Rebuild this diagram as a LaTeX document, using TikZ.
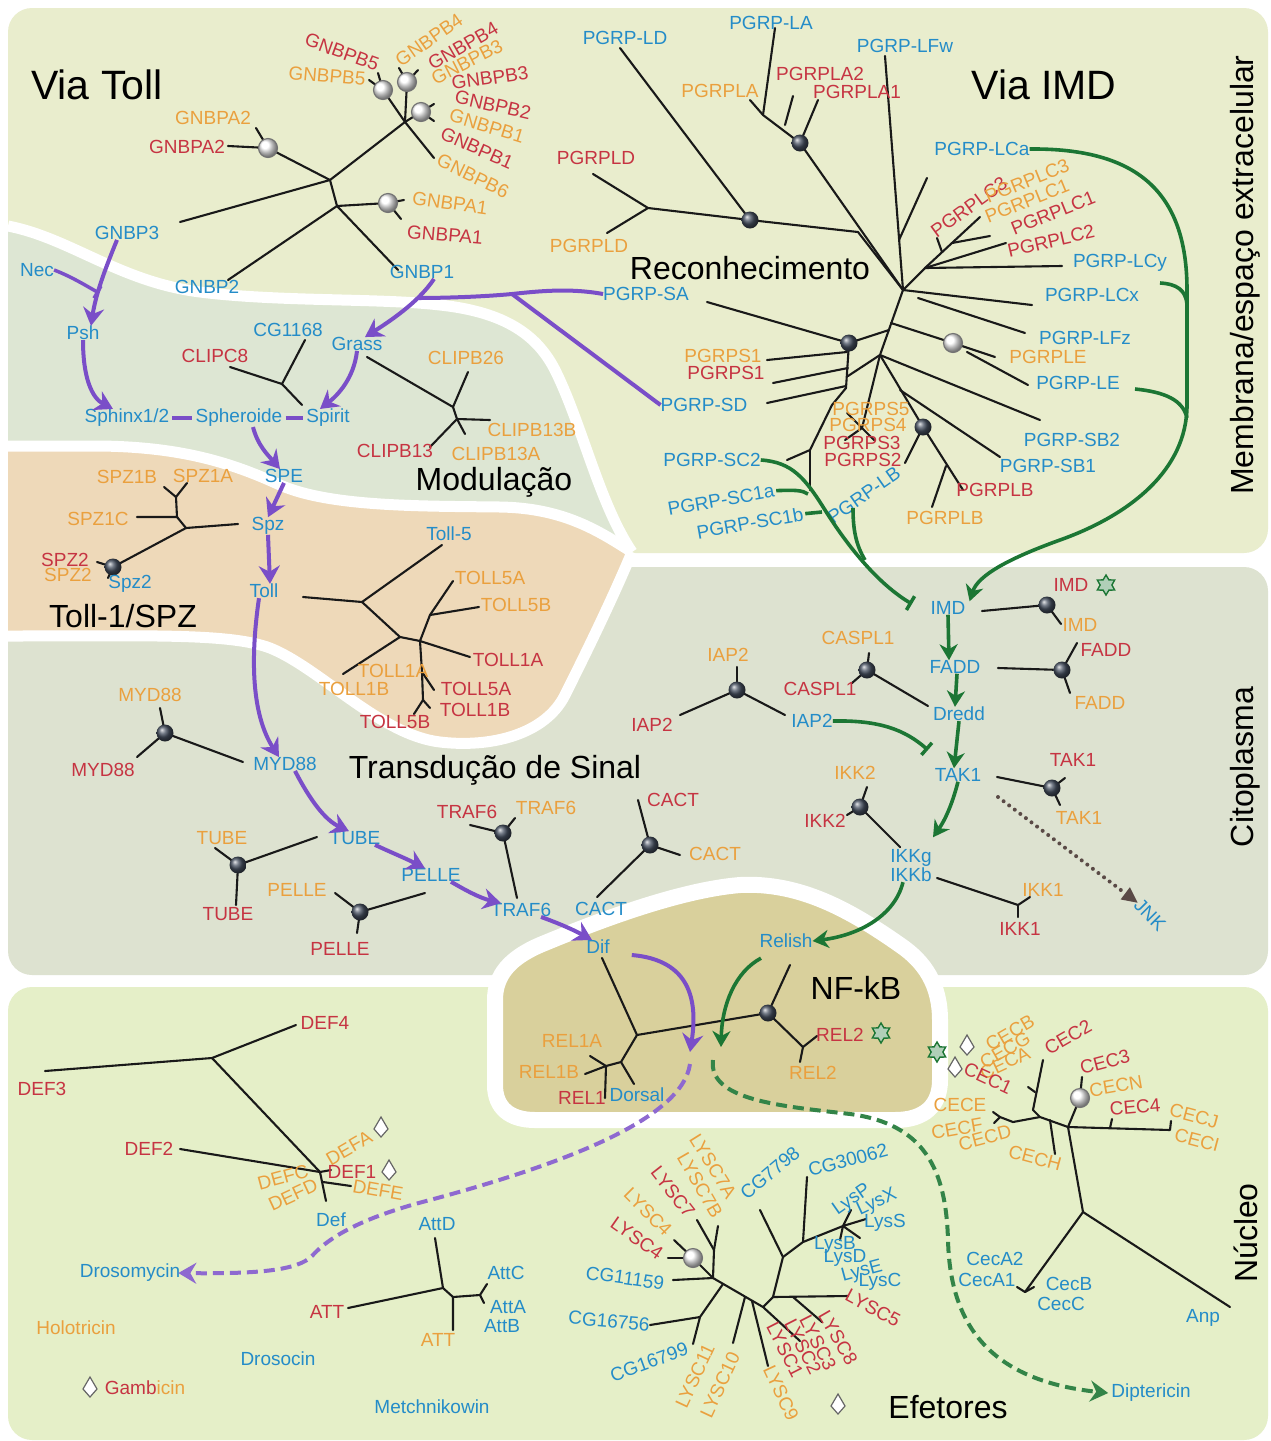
\documentclass[tikz,border=0pt]{standalone}
\usepackage{fontspec}
\setmainfont{Liberation Sans}
\usetikzlibrary{arrows.meta,shapes.geometric}
\definecolor{cB}{RGB}{36,140,200}
\definecolor{cR}{RGB}{198,52,66}
\definecolor{cO}{RGB}{234,160,62}
\definecolor{cP}{RGB}{122,78,200}
\definecolor{cG}{RGB}{28,118,52}
\definecolor{cT}{RGB}{233,237,205}
\definecolor{cM}{RGB}{221,230,211}
\definecolor{cTan}{RGB}{238,217,185}
\definecolor{cC}{RGB}{221,226,208}
\definecolor{cK}{RGB}{217,208,156}
\definecolor{cN}{RGB}{229,239,200}
\definecolor{sphc}{RGB}{70,80,96}
\definecolor{cJ}{RGB}{90,74,70}
\newcommand{\lblfont}{\fontsize{19}{19}\selectfont}
\newcommand{\ttlfont}{\fontsize{32}{32}\selectfont}
\newcommand{\bigfont}{\fontsize{41}{41}\selectfont}
\newcommand{\ball}[1]{\shade[ball color=sphc] (#1) circle (8.5pt);}
\newcommand{\wcirc}[1]{\shade[ball color=white] (#1) circle (9.5pt);\draw[black!55,line width=1.1pt] (#1) circle (9.5pt);}
\newcommand{\dmd}[1]{\draw[black!60,fill=white,line width=1.2pt] (#1) ++(0,-11) -- ++(7,12) -- ++(-7,8) -- ++(-7,-8) -- cycle;}
\newcommand{\gstar}[2]{\node[star,star points=6,star point ratio=1.7,draw=cG,fill=cG!35,line width=1.4pt,minimum size=20pt,inner sep=0pt] (#1) at (#2) {};}
\tikzset{
 labB/.style={text=cB,font=\lblfont,inner sep=0pt},
 labR/.style={text=cR,font=\lblfont,inner sep=0pt},
 labO/.style={text=cO,font=\lblfont,inner sep=0pt},
 ttlS/.style={font=\ttlfont,inner sep=0pt},
 ttlL/.style={font=\bigfont,inner sep=0pt},
 brn/.style={draw=black!90,line width=2.1pt,line cap=round,line join=round},
 parr/.style={draw=cP,line width=4pt,-{Stealth[length=18pt,width=21pt,inset=6pt]}},
 pline/.style={draw=cP,line width=4pt},
 pinh/.style={draw=cP,line width=3.5pt,-{Bar[width=14pt,line width=3.5pt]}},
 pdash/.style={draw=cP!85,line width=4pt,dash pattern=on 11pt off 6pt,-{Stealth[length=18pt,width=21pt,inset=6pt]}},
 garr/.style={draw=cG,line width=3.6pt,-{Stealth[length=16pt,width=18pt,inset=5pt]}},
 gline/.style={draw=cG,line width=3.6pt},
 ginh/.style={draw=cG,line width=3.6pt,-{Bar[width=16pt,line width=3.5pt]}},
 gdash/.style={draw=cG!90,line width=4pt,dash pattern=on 11pt off 6pt,-{Stealth[length=18pt,width=21pt,inset=6pt]}},
 jdot/.style={draw=cJ,line width=4pt,line cap=round,dash pattern=on 0pt off 7pt,-{Triangle[length=16pt,width=14pt]}},
 whitesep/.style={draw=white,line width=11pt}
}
\begin{document}
\begin{tikzpicture}[x=1pt,y=-1pt]
\useasboundingbox (0,0) rectangle (1270,1441);
\fill[white] (0,0) rectangle (1270,1441);
% ---------------- regions
\fill[cT, rounded corners=24pt] (8,8) rectangle (1268,553);
\fill[cC, rounded corners=24pt] (8,567) rectangle (1268,975);
\fill[cN, rounded corners=24pt] (8,987) rectangle (1268,1440);
\fill[cM] (8,226) .. controls (70,238) and (120,282) .. (200,292) .. controls (280,302) and (380,298) .. (440,305) .. controls (505,312) and (538,335) .. (556,372) .. controls (582,425) and (600,505) .. (632,552) .. controls (600,532) and (565,508) .. (500,507) .. controls (420,506) and (330,507) .. (280,485) .. controls (230,462) and (180,447) .. (100,446) -- (8,446) -- cycle;
\fill[cTan] (8,446) -- (100,446) .. controls (180,447) and (230,462) .. (280,485) .. controls (330,507) and (420,506) .. (500,507) .. controls (565,508) and (600,532) .. (632,552) .. controls (612,600) and (585,655) .. (565,695) .. controls (545,735) and (490,748) .. (440,742) .. controls (380,735) and (320,668) .. (270,648) .. controls (230,633) and (150,636) .. (8,636) -- cycle;
\draw[whitesep] (8,226) .. controls (70,238) and (120,282) .. (200,292) .. controls (280,302) and (380,298) .. (440,305) .. controls (505,312) and (538,335) .. (556,372) .. controls (582,425) and (600,505) .. (632,552);
\draw[whitesep] (8,446) -- (100,446) .. controls (180,447) and (230,462) .. (280,485) .. controls (330,507) and (420,506) .. (500,507) .. controls (565,508) and (600,532) .. (632,552);
\draw[whitesep] (632,552) .. controls (612,600) and (585,655) .. (565,695) .. controls (545,735) and (490,748) .. (440,742) .. controls (380,735) and (320,668) .. (270,648) .. controls (230,633) and (150,636) .. (8,636);
\filldraw[fill=cK, draw=white, line width=16pt] (495,1000) .. controls (495,975) and (510,958) .. (540,945) .. controls (600,920) and (680,890) .. (740,885) .. controls (800,882) and (850,910) .. (900,945) .. controls (925,962) and (940,985) .. (940,1020) -- (940,1080) .. controls (940,1105) and (925,1120) .. (895,1120) -- (535,1120) .. controls (510,1120) and (495,1108) .. (495,1085) -- cycle;

% ---------------- titles
\node[ttlL] (tVT) at (97,85) {Via Toll};
\node[ttlL] (tVI) at (1044,85) {Via IMD};
\node[ttlS] (tRec) at (750,268) {Reconhecimento};
\node[ttlS] (tMod) at (494,482) {Modulação};
\node[ttlS] (tTS) at (123,616) {Toll-1/SPZ};
\node[ttlS] (tTr) at (495,770) {Transdução de Sinal};
\node[ttlS] (tNF) at (856,988) {NF-kB};
\node[ttlS] (tEf) at (948,1407) {Efetores};
\node[ttlS,rotate=90] (tMem) at (1245,275) {Membrana/espaço extracelular};
\node[ttlS,rotate=90] (tCit) at (1245,767) {Citoplasma};
\node[ttlS,rotate=90] (tNuc) at (1246,1233) {Núcleo};

% ---------------- GNBP tree
\coordinate (gJ1) at (330,180); \coordinate (gJ2) at (337,206); \coordinate (gK) at (405,122);
\coordinate (gA2) at (268,148); \coordinate (gA1) at (388,203);
\coordinate (gC1) at (383,90); \coordinate (gC2) at (407,82); \coordinate (gC3) at (421,112);
\draw[brn] (180,222)--(gJ1)--(gK);
\draw[brn] (gA2)--(gJ1)--(gJ2);
\draw[brn] (gJ2)--(gA1); \draw[brn] (gJ2)--(228,280); \draw[brn] (gJ2)--(398,270);
\draw[brn] (gA2)--(228,146); \draw[brn] (gA2)--(256,128);
\draw[brn] (gA1)--(404,200); \draw[brn] (gA1)--(401,219);
\draw[brn] (gK)--(gC1); \draw[brn] (gK)--(gC2); \draw[brn] (gK)--(gC3); \draw[brn] (gK)--(434,158);
\draw[brn] (gC1)--(369,80); \draw[brn] (gC1)--(378,73);
\draw[brn] (gC2)--(399,68); \draw[brn] (gC2)--(418,70);
\draw[brn] (gC3)--(434,104); \draw[brn] (gC3)--(434,121);
\wcirc{gA2} \wcirc{gA1} \wcirc{gC1} \wcirc{gC2} \wcirc{gC3}

% ---------------- PGRP tree
\coordinate (pS1) at (750,220); \coordinate (pS2) at (800,143); \coordinate (pS3) at (849,343);
\coordinate (pS4) at (923,427); \coordinate (pW) at (953,343); \coordinate (pH) at (903,290);
\coordinate (pH2) at (925,268); \coordinate (pH4) at (880,355); \coordinate (pL) at (899,240);
\coordinate (pD) at (648,208); \coordinate (pA) at (763,115); \coordinate (pSp) at (846,388);
\coordinate (pSC) at (810,450); \coordinate (pP) at (862,428);
\draw[brn] (620,48)--(pS1);
\draw[brn] (593,174)--(pD)--(607,233); \draw[brn] (pD)--(pS1)--(858,232)--(pH);
\draw[brn] (775,28)--(pA)--(pS2); \draw[brn] (750,100)--(pA); \draw[brn] (793,96)--(785,125); \draw[brn] (818,100)--(pS2);
\draw[brn] (pS2)--(pH);
\draw[brn] (885,56)--(pH); \draw[brn] (927,178)--(pL);
\draw[brn] (pH)--(pH2)--(980,217); \draw[brn] (952,243)--(990,236); \draw[brn] (pH2)--(1006,243); \draw[brn] (pH2)--(1062,266); \draw[brn] (942,252)--(937,238);
\draw[brn] (pH)--(1032,305); \draw[brn] (918,298)--(1025,333);
\draw[brn] (pH)--(pH4);
\draw[brn] (707,302)--(pS3)--(889,330);
\draw[brn] (891,323)--(pW)--(995,357); \draw[brn] (967,352)--(1028,385);
\draw[brn] (pH4)--(1040,420); \draw[brn] (pH4)--(pS4); \draw[brn] (900,390)--(1000,457);
\draw[brn] (pS4)--(905,463); \draw[brn] (pS4)--(963,490); \draw[brn] (946,466)--(932,507);
\draw[brn] (pS3)--(pSp); \draw[brn] (pH4)--(848,376);
\draw[brn] (767,360)--(847,352); \draw[brn] (773,383)--(848,368); \draw[brn] (767,403)--(846,386);
\draw[brn] (pH4)--(pP); \draw[brn] (pP)--(847,413); \draw[brn] (pP)--(845,440); \draw[brn] (pP)--(874,440);
\draw[brn] (pSp)--(832,405)--(pSC); \draw[brn] (pSC)--(787,460); \draw[brn] (pSC)--(810,490);
\ball{pS1} \ball{pS2} \ball{pS3} \ball{pS4} \wcirc{pW}

% ---------------- CLIP trees
\draw[brn] (305,340)--(282,384)--(230,367); \draw[brn] (282,384)--(302,405);
\draw[brn] (367,357)--(453,407)--(468,372); \draw[brn] (453,407)--(457,419)--(490,420); \draw[brn] (457,419)--(465,434); \draw[brn] (457,419)--(430,447);

% ---------------- SPZ / Toll trees
\coordinate (sA) at (177,517); \coordinate (sB) at (186,528); \coordinate (sS) at (113,567); \coordinate (sY) at (176,497);
\draw[brn] (137,517)--(sA)--(sY)--(164,487); \draw[brn] (sY)--(187,483);
\draw[brn] (sA)--(sB)--(238,524); \draw[brn] (sB)--(sS)--(97,562); \draw[brn] (sS)--(108,578);
\ball{sS}
\coordinate (tT1) at (362,602); \coordinate (tT2) at (400,637); \coordinate (tT3) at (420,641);
\coordinate (tT4) at (430,615); \coordinate (tT5) at (422,672); \coordinate (tT6) at (423,700);
\draw[brn] (303,597)--(tT1)--(442,545);
\draw[brn] (tT1)--(tT2)--(343,674);
\draw[brn] (tT2)--(tT3)--(tT4)--(453,581); \draw[brn] (tT4)--(479,607);
\draw[brn] (tT3)--(470,657);
\draw[brn] (tT3)--(tT5)--(434,690); \draw[brn] (tT5)--(tT6)--(430,708); \draw[brn] (tT6)--(414,714);

% ---------------- cytoplasm trees
\coordinate (cS1) at (165,733); \coordinate (cS2) at (238,865); \coordinate (cS3) at (360,912);
\coordinate (cS4) at (503,833); \coordinate (cS5) at (650,845); \coordinate (cS6) at (1047,605);
\coordinate (cS7) at (1062,670); \coordinate (cS8) at (867,670); \coordinate (cS9) at (737,690);
\coordinate (cS10) at (1052,788); \coordinate (cS11) at (860,807); \coordinate (cN1) at (1018,905);
\draw[brn] (cS1)--(160,708); \draw[brn] (cS1)--(137,757); \draw[brn] (cS1)--(243,762);
\draw[brn] (cS2)--(215,848); \draw[brn] (cS2)--(236,905); \draw[brn] (cS2)--(317,837);
\draw[brn] (cS3)--(335,893); \draw[brn] (cS3)--(357,933); \draw[brn] (cS3)--(425,893);
\draw[brn] (cS4)--(470,825); \draw[brn] (cS4)--(515,818); \draw[brn] (cS4)--(517,898);
\draw[brn] (cS5)--(638,800); \draw[brn] (cS5)--(680,855); \draw[brn] (cS5)--(597,897);
\draw[brn] (cS6)--(982,611); \draw[brn] (cS6)--(1061,624);
\draw[brn] (cS7)--(998,668); \draw[brn] (cS7)--(1077,643); \draw[brn] (cS7)--(1070,693);
\draw[brn] (cS8)--(869,653); \draw[brn] (cS8)--(852,683); \draw[brn] (cS8)--(928,706);
\draw[brn] (cS9)--(737,667); \draw[brn] (cS9)--(680,715); \draw[brn] (cS9)--(785,715);
\draw[brn] (cS10)--(997,777); \draw[brn] (cS10)--(1065,778); \draw[brn] (cS10)--(1060,805);
\draw[brn] (cS11)--(867,787); \draw[brn] (cS11)--(847,815); \draw[brn] (cS11)--(900,847);
\draw[brn] (937,878)--(cN1)--(1030,897); \draw[brn] (cN1)--(1018,917);
\ball{cS1} \ball{cS2} \ball{cS3} \ball{cS4} \ball{cS5} \ball{cS6} \ball{cS7} \ball{cS8} \ball{cS9} \ball{cS10} \ball{cS11}

% ---------------- NF-kB tree
\coordinate (nN) at (637,1035); \coordinate (nS) at (768,1013); \coordinate (nR) at (803,1047);
\coordinate (nA) at (621,1062); \coordinate (nB) at (606,1066);
\draw[brn] (602,958)--(nN)--(nS)--(790,965);
\draw[brn] (nS)--(nR)--(817,1036); \draw[brn] (nR)--(800,1062);
\draw[brn] (nN)--(nA)--(634,1084); \draw[brn] (nA)--(nB)--(590,1056); \draw[brn] (nB)--(585,1074); \draw[brn] (nB)--(605,1098);
\ball{nS}

% ---------------- DEF / ATT trees
\coordinate (dD1) at (212,1058); \coordinate (dD2) at (320,1172);
\draw[brn] (45,1071)--(dD1)--(296,1025); \draw[brn] (dD1)--(dD2); \draw[brn] (180,1149)--(dD2);
\draw[brn] (dD2)--(326,1201); \draw[brn] (323,1182)--(351,1186); \draw[brn] (dD2)--(331,1170);
\coordinate (aN1) at (443,1288); \coordinate (aN2) at (453,1297); \coordinate (aN3) at (480,1295);
\draw[brn] (348,1308)--(aN1)--(435,1238); \draw[brn] (aN1)--(aN2)--(453,1330); \draw[brn] (aN2)--(aN3)--(487,1284); \draw[brn] (aN3)--(484,1303);

% ---------------- lysozyme tree
\coordinate (yA) at (713,1278); \coordinate (yB) at (714,1250); \coordinate (yW) at (693,1258);
\coordinate (yC) at (723,1284); \coordinate (yC2) at (700,1317); \coordinate (yD) at (745,1297);
\coordinate (yE) at (763,1307); \coordinate (yF) at (773,1297); \coordinate (yG) at (783,1257);
\coordinate (yH) at (803,1242); \coordinate (yL) at (843,1226);
\draw[brn] (673,1280)--(yA)--(yB)--(718,1226); \draw[brn] (yB)--(697,1220);
\draw[brn] (yA)--(yW); \draw[brn] (yW)--(674,1240); \draw[brn] (yW)--(668,1258);
\draw[brn] (yA)--(yE)--(yF);
\draw[brn] (yC)--(yC2)--(693,1344); \draw[brn] (yC2)--(650,1325);
\draw[brn] (yD)--(733,1343); \draw[brn] (752,1301)--(768,1366);
\draw[brn] (yE)--(800,1341);
\draw[brn] (yF)--(yG)--(760,1210); \draw[brn] (yG)--(yH)--(807,1177); \draw[brn] (yH)--(yL);
\draw[brn] (yL)--(851,1210); \draw[brn] (yL)--(866,1219); \draw[brn] (yL)--(860,1238); \draw[brn] (yL)--(840,1240);
\draw[brn] (yF)--(848,1296); \draw[brn] (793,1297)--(822,1322);
\wcirc{yW}

% ---------------- cecropin tree
\coordinate (cH0) at (1083,1212); \coordinate (cC1) at (1068,1127); \coordinate (cW) at (1080,1098);
\coordinate (cL1) at (1040,1117); \coordinate (cL2) at (1013,1122); \coordinate (cL3) at (1000,1117);
\draw[brn] (cH0)--(1025,1292); \draw[brn] (1017,1287)--(1025,1292)--(1034,1287);
\draw[brn] (cH0)--(1230,1307);
\draw[brn] (cH0)--(cC1)--(1170,1130)--(1171,1121);
\draw[brn] (1110,1128)--(1112,1119);
\draw[brn] (cC1)--(cW)--(1082,1077);
\draw[brn] (cC1)--(cL1)--(1033,1110)--(1043,1060);
\draw[brn] (1035,1092)--(1028,1087);
\draw[brn] (cL1)--(cL2)--(cL3)--(993,1112); \draw[brn] (cL3)--(994,1123);
\draw[brn] (1050,1120)--(1055,1154);
\wcirc{cW}

% ================= labels
% GNBP
\node[labR,rotate=-20] (gb5r) at (342,52) {GNBPB5};
\node[labO,rotate=-5] (gb5o) at (327,76) {GNBPB5};
\node[labO,rotate=35] (gb4o) at (429,40) {GNBPB4};
\node[labR,rotate=30] (gb4r) at (463,46) {GNBPB4};
\node[labO,rotate=27] (gb3o) at (467,62) {GNBPB3};
\node[labR,rotate=8] (gb3r) at (490,78) {GNBPB3};
\node[labR,rotate=-13] (gb2r) at (493,105) {GNBPB2};
\node[labO,rotate=-17] (gb1o) at (487,126) {GNBPB1};
\node[labR,rotate=-24] (gb1r) at (477,148) {GNBPB1};
\node[labO,rotate=-26] (gb6o) at (473,176) {GNBPB6};
\node[labO] (ga2o) at (213,118) {GNBPA2};
\node[labR] (ga2r) at (187,147) {GNBPA2};
\node[labO,rotate=-8] (ga1o) at (450,203) {GNBPA1};
\node[labR,rotate=-5] (ga1r) at (445,235) {GNBPA1};
\node[labB] (gnbp3) at (127,233) {GNBP3};
\node[labB] (gnbp2) at (207,287) {GNBP2};
\node[labB] (gnbp1) at (422,272) {GNBP1};
% PGRP
\node[labB] (pld) at (625,38) {PGRP-LD};
\node[labB] (pla) at (771,23) {PGRP-LA};
\node[labO] (plao) at (720,91) {PGRPLA};
\node[labR] (pla2) at (820,74) {PGRPLA2};
\node[labR] (pla1) at (857,92) {PGRPLA1};
\node[labB] (plfw) at (905,46) {PGRP-LFw};
\node[labR] (pldr) at (596,158) {PGRPLD};
\node[labO] (pldo) at (589,246) {PGRPLD};
\node[labB] (lca) at (982,149) {PGRP-LCa};
\node[labR,rotate=36] (plc3r) at (969,207) {PGRPLC3};
\node[labO,rotate=22] (plc3o) at (1027,181) {PGRPLC3};
\node[labO,rotate=22] (plc1o) at (1027,201) {PGRPLC1};
\node[labR,rotate=22] (plc1r) at (1053,213) {PGRPLC1};
\node[labR,rotate=13] (plc2r) at (1051,241) {PGRPLC2};
\node[labB] (lcy) at (1120,263) {PGRP-LCy};
\node[labB] (lcx) at (1092,295) {PGRP-LCx};
\node[labB] (lfz) at (1085,338) {PGRP-LFz};
\node[labO] (pleo) at (1048,357) {PGRPLE};
\node[labB] (ple) at (1078,383) {PGRP-LE};
\node[labB] (psb2) at (1072,440) {PGRP-SB2};
\node[labB] (psb1) at (1048,466) {PGRP-SB1};
\node[labR] (plbr) at (995,490) {PGRPLB};
\node[labO] (plbo) at (945,518) {PGRPLB};
\node[labB,rotate=35] (plb) at (864,495) {PGRP-LB};
\node[labO] (ps5) at (871,409) {PGRPS5};
\node[labO] (ps4) at (868,425) {PGRPS4};
\node[labR] (ps3) at (862,443) {PGRPS3};
\node[labR] (ps2) at (863,460) {PGRPS2};
\node[labO] (ps1o) at (723,356) {PGRPS1};
\node[labR] (ps1r) at (726,373) {PGRPS1};
\node[labB] (pgrpsd) at (704,405) {PGRP-SD};
\node[labB] (sc2) at (712,460) {PGRP-SC2};
\node[labB,rotate=10] (sc1a) at (721,500) {PGRP-SC1a};
\node[labB,rotate=10] (sc1b) at (750,523) {PGRP-SC1b};
\node[labB] (pgrpsa) at (646,294) {PGRP-SA};
% modulation
\node[labB] (nec) at (37,270) {Nec};
\node[labB] (psh) at (83,333) {Psh};
\node[labB] (cg1168) at (288,330) {CG1168};
\node[labB] (grass) at (357,344) {Grass};
\node[labR] (clipc8) at (215,356) {CLIPC8};
\node[labO] (clipb26) at (466,358) {CLIPB26};
\node[labO] (clipb13b) at (532,430) {CLIPB13B};
\node[labO] (clipb13a) at (496,454) {CLIPB13A};
\node[labR] (clipb13) at (395,451) {CLIPB13};
\node[labB] (sphinx) at (127,418) {Sphinx1/2};
\node[labB] (spher) at (239,418) {Spheroide};
\node[labB] (spirit) at (328,418) {Spirit};
\node[labB] (spe) at (284,476) {SPE};
\node[labB] (spz) at (268,526) {Spz};
\node[labB] (toll) at (264,591) {Toll};
% toll region
\node[labO] (spz1b) at (127,477) {SPZ1B};
\node[labO] (spz1a) at (203,476) {SPZ1A};
\node[labO] (spz1c) at (98,519) {SPZ1C};
\node[labR] (spz2r) at (65,560) {SPZ2};
\node[labO] (spz2o) at (68,575) {SPZ2};
\node[labB] (spz2b) at (130,584) {Spz2};
\node[labB] (toll5) at (449,534) {Toll-5};
\node[labO] (t5ao) at (490,578) {TOLL5A};
\node[labO] (t5bo) at (516,605) {TOLL5B};
\node[labR] (t1ar) at (508,660) {TOLL1A};
\node[labR] (t5ar) at (476,689) {TOLL5A};
\node[labR] (t1br) at (475,710) {TOLL1B};
\node[labO] (t1ao) at (393,671) {TOLL1A};
\node[labO] (t1bo) at (354,689) {TOLL1B};
\node[labR] (t5br) at (395,722) {TOLL5B};
% cytoplasm toll side
\node[labO] (myd88o) at (150,695) {MYD88};
\node[labR] (myd88r) at (103,770) {MYD88};
\node[labB] (myd) at (285,764) {MYD88};
\node[labO] (tubeo) at (222,838) {TUBE};
\node[labR] (tuber) at (228,914) {TUBE};
\node[labB] (tube) at (355,838) {TUBE};
\node[labO] (pelleo) at (297,890) {PELLE};
\node[labR] (peller) at (340,949) {PELLE};
\node[labB] (pelle) at (431,875) {PELLE};
\node[labR] (traf6r) at (467,812) {TRAF6};
\node[labO] (traf6o) at (546,808) {TRAF6};
\node[labB] (traf6) at (521,910) {TRAF6};
\node[labR] (cactr) at (673,800) {CACT};
\node[labO] (cacto) at (715,854) {CACT};
\node[labB] (cact) at (601,909) {CACT};
\node[labB] (dif) at (598,947) {Dif};
% cytoplasm IMD side
\node[labB] (imd) at (948,608) {IMD};
\node[labR] (imdr) at (1071,585) {IMD};
\gstar{stIMD}{1106,585}
\node[labO] (imdo) at (1080,625) {IMD};
\node[labB] (fadd) at (955,667) {FADD};
\node[labR] (faddr) at (1106,650) {FADD};
\node[labO] (faddo) at (1100,703) {FADD};
\node[labO] (caspo) at (858,638) {CASPL1};
\node[labR] (caspr) at (820,689) {CASPL1};
\node[labB] (dredd) at (959,714) {Dredd};
\node[labO] (iap2o) at (728,655) {IAP2};
\node[labR] (iap2r) at (652,725) {IAP2};
\node[labB] (iap2) at (812,721) {IAP2};
\node[labB] (tak1) at (958,775) {TAK1};
\node[labR] (tak1r) at (1073,760) {TAK1};
\node[labO] (tak1o) at (1079,818) {TAK1};
\node[labO] (ikk2o) at (855,773) {IKK2};
\node[labR] (ikk2r) at (825,821) {IKK2};
\node[labB] (ikkg) at (911,858) {IKKg};
\node[labB] (ikkb) at (911,875) {IKKb};
\node[labO] (ikk1o) at (1043,890) {IKK1};
\node[labR] (ikk1r) at (1020,929) {IKK1};
\node[labB,rotate=-45] (jnk) at (1150,915) {JNK};
\node[labB] (relish) at (786,941) {Relish};
% NF-kB
\node[labR] (rel2r) at (840,1035) {REL2};
\gstar{stREL}{881,1033}
\node[labO] (rel2o) at (813,1073) {REL2};
\node[labO] (rel1a) at (572,1041) {REL1A};
\node[labO] (rel1b) at (549,1072) {REL1B};
\node[labR] (rel1) at (582,1098) {REL1};
\node[labB] (dorsal) at (637,1095) {Dorsal};
% nucleus left
\node[labR] (def4) at (325,1023) {DEF4};
\node[labR] (def3) at (42,1089) {DEF3};
\node[labR] (def2) at (149,1149) {DEF2};
\node[labO,rotate=30] (defa) at (349,1148) {DEFA};
\node[labR] (def1) at (352,1172) {DEF1};
\node[labO,rotate=-10] (defe) at (378,1190) {DEFE};
\node[labO,rotate=15] (defc) at (283,1177) {DEFC};
\node[labO,rotate=25] (defd) at (293,1195) {DEFD};
\node[labB] (defb) at (331,1220) {Def};
\dmd{381,1128} \dmd{389,1171}
\node[labB] (drosomycin) at (130,1273) {Drosomycin};
\node[labO] (holo) at (76,1328) {Holotricin};
\node[labB] (drosocin) at (278,1359) {Drosocin};
\node[inner sep=0pt,font=\lblfont] (gamb) at (145,1388) {\textcolor{cR}{Gamb}\textcolor{cO}{icin}};
\dmd{90,1388}
\node[labB] (metch) at (432,1407) {Metchnikowin};
\node[labR] (attr) at (327,1312) {ATT};
\node[labB] (attd) at (437,1224) {AttD};
\node[labO] (atto) at (438,1340) {ATT};
\node[labB] (attc) at (506,1273) {AttC};
\node[labB] (atta) at (508,1307) {AttA};
\node[labB] (attb) at (502,1326) {AttB};
% lysozymes
\node[labO,rotate=-58] (lysc7a) at (713,1166) {LYSC7A};
\node[labO,rotate=-60] (lysc7b) at (700,1185) {LYSC7B};
\node[labR,rotate=-52] (lysc7) at (673,1192) {LYSC7};
\node[labO,rotate=-45] (lysc4o) at (648,1212) {LYSC4};
\node[labR,rotate=-35] (lysc4r) at (637,1238) {LYSC4};
\node[labB,rotate=40] (cg7798) at (770,1173) {CG7798};
\node[labB,rotate=15] (cg30062) at (848,1160) {CG30062};
\node[labB,rotate=-8] (cg11159) at (625,1278) {CG11159};
\node[labB,rotate=-5] (cg16756) at (609,1321) {CG16756};
\node[labB,rotate=20] (cg16799) at (649,1362) {CG16799};
\node[labO,rotate=65] (lysc11) at (695,1376) {LYSC11};
\node[labO,rotate=65] (lysc10) at (720,1385) {LYSC10};
\node[labO,rotate=-65] (lysc9) at (781,1393) {LYSC9};
\node[labR,rotate=-63] (lysc1) at (785,1350) {LYSC1};
\node[labR,rotate=-63] (lysc2) at (803,1347) {LYSC2};
\node[labR,rotate=-63] (lysc3) at (818,1343) {LYSC3};
\node[labR,rotate=-60] (lysc8) at (838,1338) {LYSC8};
\node[labR,rotate=-28] (lysc5) at (873,1308) {LYSC5};
\dmd{838,1405}
\node[labB,rotate=35] (lysp) at (852,1200) {LysP};
\node[labB,rotate=25] (lysx) at (877,1203) {LysX};
\node[labB] (lyss) at (885,1223) {LysS};
\node[labB] (lysb) at (835,1245) {LysB};
\node[labB] (lysd) at (845,1258) {LysD};
\node[labB,rotate=15] (lyse) at (862,1272) {LysE};
\node[labB] (lysc) at (880,1282) {LysC};
% cecropins
\gstar{stCEC}{937,1052}
\dmd{967,1046} \dmd{955,1068}
\node[labO,rotate=30] (cecb) at (1010,1033) {CECB};
\node[labR,rotate=30] (cec2) at (1068,1037) {CEC2};
\node[labO,rotate=30] (cecg) at (1005,1050) {CECG};
\node[labO,rotate=25] (ceca) at (1005,1063) {CECA};
\node[labR,rotate=-25] (cec1) at (988,1078) {CEC1};
\node[labR,rotate=15] (cec3) at (1105,1062) {CEC3};
\node[labO,rotate=10] (cecn) at (1116,1086) {CECN};
\node[labR,rotate=5] (cec4) at (1135,1107) {CEC4};
\node[labO] (cece) at (960,1105) {CECE};
\node[labO,rotate=10] (cecf) at (957,1129) {CECF};
\node[labO,rotate=15] (cecd) at (985,1138) {CECD};
\node[labO,rotate=-15] (cech) at (1035,1158) {CECH};
\node[labO,rotate=-15] (cecj) at (1194,1116) {CECJ};
\node[labO,rotate=-15] (ceci) at (1197,1140) {CECI};
\node[labB] (ceca2) at (995,1259) {CecA2};
\node[labB] (ceca1) at (987,1280) {CecA1};
\node[labB] (cecbb) at (1069,1284) {CecB};
\node[labB] (ceccb) at (1061,1304) {CecC};
\node[labB] (anp) at (1203,1318) {Anp};
\node[labB] (dipt) at (1151,1393) {Diptericin};

% ================= connectors
% Toll pathway (purple)
\coordinate (pjoin) at (512,294);
\coordinate (pmerge) at (419,298);
\draw[parr] ([xshift=-10pt]gnbp3.south) .. controls (108,262) and (96,292) .. ([xshift=8pt]psh.north);
\draw[pinh] (nec.east) .. controls (70,276) and (85,285) .. (99,293);
\draw[parr] (psh.south) .. controls (83,378) and (92,398) .. ([xshift=-14pt]sphinx.north);
\draw[pline,shorten <=3pt,shorten >=3pt] (sphinx.east) -- (spher.west);
\draw[pline,shorten <=3pt,shorten >=3pt] (spher.east) -- (spirit.west);
\draw[parr] (grass.south) .. controls (354,378) and (338,395) .. ([xshift=-8pt]spirit.north);
\draw[parr] ([xshift=12pt]gnbp1.south) .. controls (420,300) and (395,318) .. ([xshift=8pt]grass.north);
\draw[pline] (pgrpsa.west) .. controls (570,288) and (540,291) .. (pjoin) .. controls (480,297) and (440,298) .. (pmerge);
\draw[pline] (pgrpsd.west) -- (pjoin);
\draw[parr] ([xshift=14pt]spher.south) .. controls (258,446) and (268,455) .. ([xshift=-4pt]spe.north);
\draw[parr] (spe.south) -- (spz.north);
\draw[parr] (spz.south) -- ([xshift=6pt]toll.north);
\draw[parr] ([xshift=-5pt]toll.south) .. controls (250,660) and (252,715) .. ([xshift=-6pt]myd.north);
\draw[parr] ([xshift=10pt]myd.south) .. controls (310,800) and (325,820) .. ([xshift=-6pt]tube.north);
\draw[parr] ([xshift=20pt]tube.south) .. controls (390,852) and (405,858) .. ([xshift=-6pt]pelle.north);
\draw[parr] ([xshift=20pt]pelle.south) .. controls (465,890) and (480,898) .. ([xshift=-20pt]traf6.north);
\draw[parr] ([xshift=20pt]traf6.south) .. controls (555,922) and (570,928) .. ([xshift=-6pt]dif.north);
\coordinate (nfP) at (690,1052);
\coordinate (nfPd) at (690,1064);
\draw[parr] ([xshift=22pt,yshift=-8pt]dif.east) .. controls (690,960) and (698,1000) .. (nfP);
\draw[pdash] (nfPd) .. controls (682,1120) and (560,1165) .. (430,1200) .. controls (360,1218) and (328,1238) .. (312,1256) .. controls (298,1270) and (260,1274) .. ([xshift=-2pt]drosomycin.east);
% IMD pathway (green)
\coordinate (gLCy) at (1160,283);
\coordinate (gLE) at (1135,389);
\draw[garr] (lca.east) .. controls (1135,148) and (1187,190) .. (1187,290) -- (1187,405) .. controls (1187,470) and (1130,515) .. (1060,540) .. controls (1010,558) and (978,575) .. ([xshift=4pt]imd.north east);
\draw[gline] (gLCy) .. controls (1177,284) and (1186,290) .. (1187,305);
\draw[gline] (gLE) .. controls (1165,392) and (1183,400) .. (1187,418);
\draw[ginh] (sc2.east) .. controls (792,462) and (805,478) .. (825,510) .. controls (850,550) and (880,585) .. (912,604);
\draw[gline] ([xshift=2pt]sc1a.east) .. controls (795,490) and (802,490) .. (808,494);
\draw[gline] ([xshift=2pt]sc1b.east) -- (822,512);
\draw[gline] (853,508) .. controls (853,530) and (856,545) .. (865,560);
\draw[garr] (imd.south) -- ([xshift=-6pt]fadd.north);
\draw[garr] ([xshift=2pt]fadd.south) -- ([xshift=-4pt]dredd.north);
\draw[garr] (dredd.south) -- ([xshift=-4pt]tak1.north);
\draw[garr] (tak1.south) .. controls (952,805) and (945,820) .. ([xshift=22pt,yshift=12pt]ikkg.north);
\draw[ginh] (iap2.east) .. controls (880,720) and (905,730) .. (928,750);
\draw[garr] ([xshift=-8pt]ikkb.south) .. controls (895,915) and (860,935) .. (relish.east);
\coordinate (nfG) at (721,1047);
\coordinate (nfGd) at (713,1060);
\draw[garr] ([xshift=-25pt,yshift=-10pt]relish.south) .. controls (735,972) and (722,1005) .. (nfG);
\draw[gdash] (nfGd) .. controls (708,1100) and (780,1106) .. (850,1114) .. controls (925,1124) and (946,1170) .. (948,1240) .. controls (950,1320) and (985,1380) .. ([xshift=-3pt]dipt.west);
\draw[jdot] ([xshift=40pt,yshift=-22pt]tak1.center) -- ([xshift=-12pt,yshift=12pt]jnk.center);
\end{tikzpicture}
\end{document}
